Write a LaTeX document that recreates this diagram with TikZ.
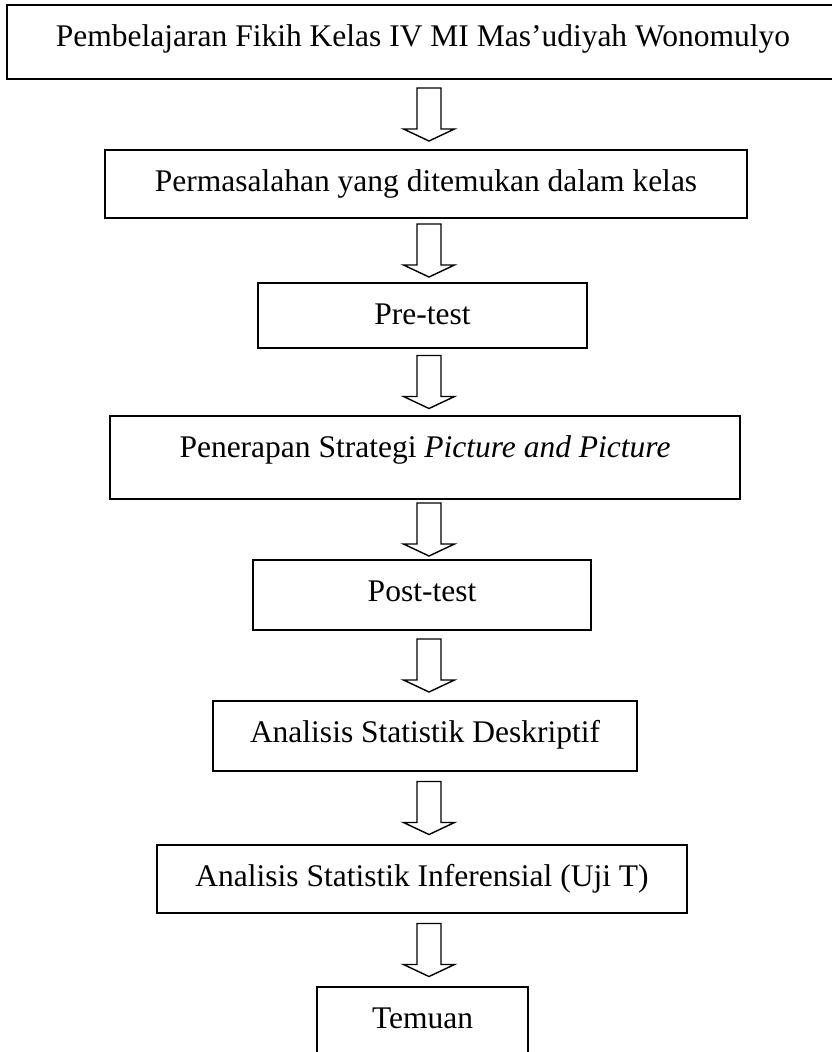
\documentclass[tikz,border=0pt]{standalone}
\usepackage{fontspec}
\setmainfont{Liberation Serif}
\usepackage{tikz}
\usetikzlibrary{positioning, calc}

% hollow block arrow placed half way between two boxes
\newcommand{\flowarrow}[2]{%
  \path ($(#1.south)!.5!(#2.north)$) coordinate (mid);
  \pic at (axis |- mid) {blockarrow};}

\begin{document}
\begin{tikzpicture}[
                x=1pt, y=-1pt, % pixel-like units, y pointing down
                flowbox/.style={draw, line width=1.6pt, inner sep=0pt, anchor=base, text height=41pt,
                                font=\fontsize{31.5}{38}\selectfont}, % Box with text near the top
                blockarrow/.pic={\draw[line width=1.4pt, line join=miter]
                        (-12,-26.5) -- (12,-26.5) -- (12,14.5) -- (25.5,14.5) -- (0,26.5)
                        -- (-25.5,14.5) -- (-12,14.5) -- cycle;} % Hollow down arrow
                ]
                \clip (0,0) rectangle (832,1052);
                \coordinate (axis) at (429,0);
                \node[flowbox, minimum width=832pt, text depth=33pt] (b1) at (423,46) {Pembelajaran Fikih Kelas IV MI Mas’udiyah Wonomulyo};
                \node[flowbox, minimum width=642pt, text depth=27pt] (b2) at (426,191) {Permasalahan yang ditemukan dalam kelas};
                \node[flowbox, minimum width=329pt, text depth=24pt] (b3) at (422.5,324) {Pre-test};
                \node[flowbox, minimum width=630pt, text depth=42pt] (b4) at (425,457) {Penerapan Strategi \textit{Picture and Picture}};
                \node[flowbox, minimum width=338pt, text depth=29pt] (b5) at (422,601) {Post-test};
                \node[flowbox, minimum width=424pt, text depth=29pt] (b6) at (425,742) {Analisis Statistik Deskriptif};
                \node[flowbox, minimum width=530pt, text depth=27pt] (b7) at (422,886) {Analisis Statistik Inferensial (Uji T)};
                \node[flowbox, minimum width=211pt, text depth=60pt] (b8) at (422.5,1028) {Temuan};

                \flowarrow{b1}{b2}
                \flowarrow{b2}{b3}
                \flowarrow{b3}{b4}
                \flowarrow{b4}{b5}
                \flowarrow{b5}{b6}
                \flowarrow{b6}{b7}
                \flowarrow{b7}{b8}
            \end{tikzpicture}
\end{document}
